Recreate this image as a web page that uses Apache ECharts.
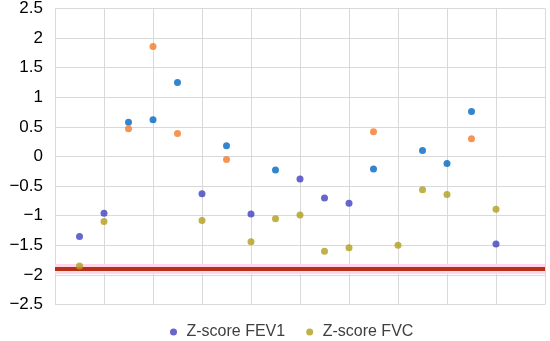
<!DOCTYPE html>
<html><head><meta charset="utf-8">
<script src="https://cdn.jsdelivr.net/npm/echarts@6/dist/echarts.min.js"></script>
<style>html,body{margin:0;padding:0;background:#fff}#c{width:550px;height:341px}</style>
</head><body><div id="c"></div>
<script>
const xPositions = [1,2,3,4,5,6,7,8,9,10,11,12,13,14,15,16,17,18];
const fev1 = [-1.35,-0.96,0.58,0.62,1.25,-0.63,0.18,-0.97,-0.23,-0.38,-0.70,-0.79,-0.21,null,0.10,-0.12,0.76,-1.48];
const fvc = [-1.85,-1.10,0.47,1.86,0.39,-1.08,-0.05,-1.44,-1.05,-0.99,-1.60,-1.54,0.42,-1.50,-0.56,-0.64,0.30,-0.89];
const seriesNames = ['Z-score FEV1','Z-score FVC'];
const yTicks = [-2.5,-2,-1.5,-1,-0.5,0,0.5,1,1.5,2,2.5];
const thresholdLine = -1.9;

const chart = echarts.init(document.getElementById('c'));
const pair = arr => xPositions.map((x,i)=>[x, arr[i]]);
chart.setOption({
  animation:false,
  grid:{left:55,right:5,top:4.5,bottom:36.5},
  xAxis:{type:'value',min:0,max:20,interval:2,
    axisLabel:{show:false},axisTick:{show:false},axisLine:{show:false},
    splitLine:{show:true,lineStyle:{color:'#d9d9d9',width:1}}},
  yAxis:{type:'value',min:yTicks[0],max:yTicks[yTicks.length-1],interval:0.5,
    axisLine:{show:false},axisTick:{show:false},
    splitLine:{show:true,lineStyle:{color:'#d9d9d9',width:1}},
    axisLabel:{margin:12,color:'#000',fontFamily:'Liberation Sans',fontSize:17,
      formatter:v=>String(v).replace('-','\u2212')}},
  legend:{left:165,top:319,itemWidth:16,itemHeight:7,itemGap:21,icon:'circle',
    textStyle:{fontFamily:'Liberation Sans',fontSize:16,color:'#404040'},
    data:seriesNames},
  visualMap:[
    {show:false,type:'piecewise',seriesIndex:0,dimension:1,
      pieces:[{lt:-0.3,color:'#4040c0'},{gte:-0.3,color:'#0068c0'}]},
    {show:false,type:'piecewise',seriesIndex:1,dimension:1,
      pieces:[{lt:-0.3,color:'#b09e1c'},{gte:-0.3,color:'#f47a28'}]}
  ],
  series:[
    {name:seriesNames[0],type:'scatter',symbolSize:7,itemStyle:{color:'#4040c0'},
      data:pair(fev1),
      markLine:{z:1,silent:true,symbol:'none',label:{show:false},
        data:[{yAxis:thresholdLine,lineStyle:{color:'#ffd6ea',width:10,type:'solid'}},
              {yAxis:thresholdLine,lineStyle:{color:'#b8301a',width:4,type:'solid'}}]}},
    {name:seriesNames[1],type:'scatter',symbolSize:7,itemStyle:{color:'#b09e1c'},
      data:pair(fvc)}
  ]
});
</script></body></html>
